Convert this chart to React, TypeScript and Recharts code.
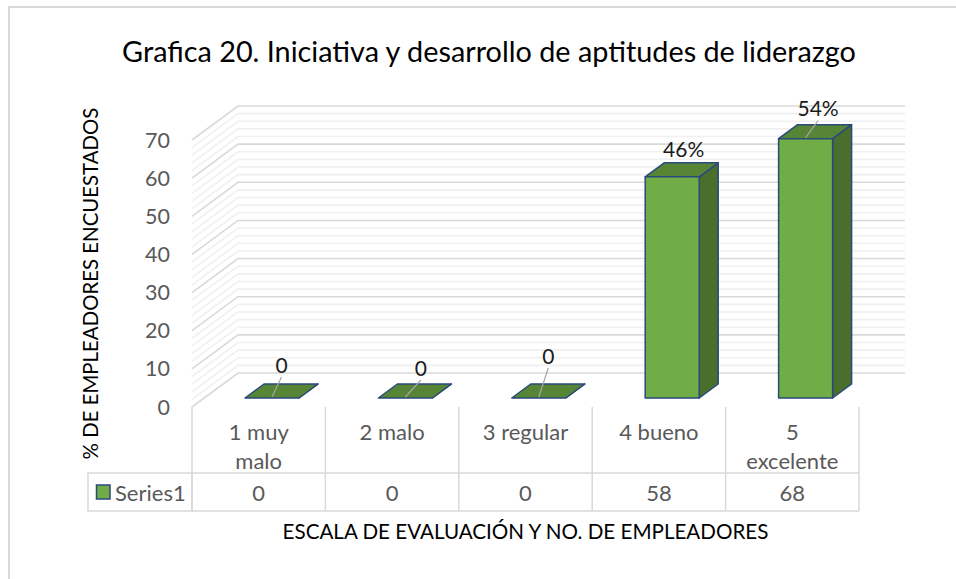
import { BarChart, Bar, XAxis, YAxis, CartesianGrid, LabelList } from 'recharts';

const categories = ['1 muy malo', '2 malo', '3 regular', '4 bueno', '5 excelente'];
const categoryLines = [['1 muy', 'malo'], ['2 malo'], ['3 regular'], ['4 bueno'], ['5', 'excelente']];
const employees = [0, 0, 0, 58, 68];
const barLabels = ['0', '0', '0', '46%', '54%'];
const yTicks = [0, 10, 20, 30, 40, 50, 60, 70];
const minorTicks = [
  2, 4, 6, 8, 12, 14, 16, 18, 22, 24, 26, 28, 32, 34, 36, 38,
  42, 44, 46, 48, 52, 54, 56, 58, 62, 64, 66, 68,
];

// label position relative to the centre of the bar's top face
const labelShift = [
  { dx: 0, dy: -27, leader: true },
  { dx: 6, dy: -24, leader: true },
  { dx: 0, dy: -36, leader: true },
  { dx: 2, dy: -21, leader: false },
  { dx: 3, dy: -24, leader: true },
];

const data = categories.map((name, i) => ({ name, employees: employees[i], label: barLabels[i] }));

const FONT = 'Lato, "Open Sans", sans-serif';
const TEXT_GRAY = '#595959';
const LINE_GRAY = '#d9d9d9';
const MINOR_GRAY = '#f0f0f0';
const OUTLINE = '#2a4a7b';

// fake 3D: the back wall and the bars sit behind the front plane
const WALL_DX = 46;
const WALL_DY = 34;
const BAR_DX = 13;
const BAR_DY = 9;
const DEPTH_DX = 19;
const DEPTH_DY = 14;

function wallLine(color: string) {
  return (props: any) => {
    const { x1, x2, y1 } = props;
    return (
      <polyline
        key={`${color}-${y1}`}
        points={`${x1},${y1} ${x1 + WALL_DX},${y1 - WALL_DY} ${x2 + WALL_DX},${y1 - WALL_DY}`}
        fill="none"
        stroke={color}
        strokeWidth={1.6}
      />
    );
  };
}

function Box3D(props: any) {
  const { x, y, width, height } = props;
  const left = x + BAR_DX;
  const right = left + width;
  const top = y - BAR_DY;
  const bottom = top + height;
  return (
    <g stroke={OUTLINE} strokeWidth={1.5} strokeLinejoin="round">
      <polygon
        points={`${right},${top} ${right + DEPTH_DX},${top - DEPTH_DY} ${right + DEPTH_DX},${bottom - DEPTH_DY} ${right},${bottom}`}
        fill="#4a6e2c"
      />
      <polygon
        points={`${left},${top} ${left + DEPTH_DX},${top - DEPTH_DY} ${right + DEPTH_DX},${top - DEPTH_DY} ${right},${top}`}
        fill="#578536"
      />
      <rect x={left} y={top} width={width} height={height} fill="#70ad47" />
    </g>
  );
}

function BarLabel(props: any) {
  const { x, y, width, index, value } = props;
  const shift = labelShift[index];
  const frontX = x + BAR_DX + width / 2;
  const frontY = y - BAR_DY;
  const cx = frontX + DEPTH_DX / 2 + shift.dx;
  const cy = frontY - DEPTH_DY / 2 + shift.dy;
  return (
    <g>
      {shift.leader && (
        <line x1={frontX} y1={frontY - 1} x2={cx} y2={cy + 13} stroke="#a6a6a6" strokeWidth={1.2} />
      )}
      <text x={cx} y={cy} textAnchor="middle" dominantBaseline="central" fontSize={21} fontFamily={FONT} fill="#1a1a1a">
        {value}
      </text>
    </g>
  );
}

const ROW_TOP = 473;
const ROW_BOTTOM = 511;
const TABLE_LEFT = 88;

function TableTick(props: any) {
  const { x, y, index } = props;
  const bandWidth = 667 / categories.length;
  const cellLeft = x - bandWidth / 2;
  const cellRight = x + bandWidth / 2;
  return (
    <g fontFamily={FONT} fontSize={22} fill={TEXT_GRAY}>
      <line x1={cellLeft} y1={y} x2={cellLeft} y2={ROW_BOTTOM} stroke={LINE_GRAY} strokeWidth={1.5} />
      {index === categories.length - 1 && (
        <line x1={cellRight} y1={y} x2={cellRight} y2={ROW_BOTTOM} stroke={LINE_GRAY} strokeWidth={1.5} />
      )}
      <line x1={cellLeft} y1={ROW_TOP} x2={cellRight} y2={ROW_TOP} stroke={LINE_GRAY} strokeWidth={1.5} />
      <line x1={cellLeft} y1={ROW_BOTTOM} x2={cellRight} y2={ROW_BOTTOM} stroke={LINE_GRAY} strokeWidth={1.5} />
      {categoryLines[index].map((line, i) => (
        <text key={line} x={x} y={431 + i * 29} textAnchor="middle" dominantBaseline="central">
          {line}
        </text>
      ))}
      <text x={x} y={492} textAnchor="middle" dominantBaseline="central">
        {employees[index]}
      </text>
      {index === 0 && (
        <g>
          <rect
            x={TABLE_LEFT}
            y={ROW_TOP}
            width={cellLeft - TABLE_LEFT}
            height={ROW_BOTTOM - ROW_TOP}
            fill="none"
            stroke={LINE_GRAY}
            strokeWidth={1.5}
          />
          <rect x={96.5} y={485} width={13.5} height={14} fill="#70ad47" stroke={OUTLINE} strokeWidth={1.5} />
          <text x={115} y={492} dominantBaseline="central">
            Series1
          </text>
        </g>
      )}
    </g>
  );
}

export default function App() {
  return (
    <div style={{ position: 'absolute', left: 0, top: 0, width: 956, height: 579, background: '#fff' }}>
      <div style={{ position: 'absolute', left: 8, top: 6, right: 0, borderTop: `2px solid ${LINE_GRAY}` }} />
      <div style={{ position: 'absolute', left: 8, top: 6, bottom: 0, borderLeft: `2px solid ${LINE_GRAY}` }} />
      <div
        style={{
          position: 'absolute',
          left: 0,
          width: 978,
          top: 33,
          textAlign: 'center',
          fontFamily: FONT,
          fontSize: 28.8,
          lineHeight: '36px',
          color: '#000',
        }}
      >
        Grafica 20. Iniciativa y desarrollo de aptitudes de liderazgo
      </div>
      <BarChart
        width={956}
        height={579}
        data={data}
        margin={{ top: 140, right: 97, bottom: 0, left: 0 }}
        style={{ position: 'absolute', left: 0, top: 0 }}
      >
        <CartesianGrid vertical={false} horizontal={wallLine(MINOR_GRAY)} horizontalValues={minorTicks} />
        <CartesianGrid vertical={false} horizontal={wallLine(LINE_GRAY)} horizontalValues={yTicks} />
        <XAxis
          dataKey="name"
          height={172}
          interval={0}
          axisLine={false}
          tickLine={false}
          tickSize={0}
          tickMargin={0}
          tick={TableTick}
          label={{
            value: 'ESCALA DE EVALUACIÓN Y NO. DE EMPLEADORES',
            position: 'center',
            dy: 39,
            fontSize: 20.6,
            fontFamily: FONT,
            fill: '#000',
          }}
        />
        <YAxis
          width={192}
          domain={[0, 70]}
          ticks={yTicks}
          interval={0}
          axisLine={false}
          tickLine={false}
          tickSize={0}
          tickMargin={22}
          tick={{ fontSize: 21.5, fontFamily: FONT, fill: TEXT_GRAY }}
          label={{
            value: '% DE EMPLEADORES ENCUESTADOS',
            angle: -90,
            position: 'center',
            dx: -5,
            dy: 10,
            fontSize: 20.4,
            fontFamily: FONT,
            fill: '#000',
          }}
        />
        <Bar dataKey="employees" barSize={54} shape={Box3D} isAnimationActive={false}>
          <LabelList dataKey="label" content={BarLabel} />
        </Bar>
      </BarChart>
    </div>
  );
}
